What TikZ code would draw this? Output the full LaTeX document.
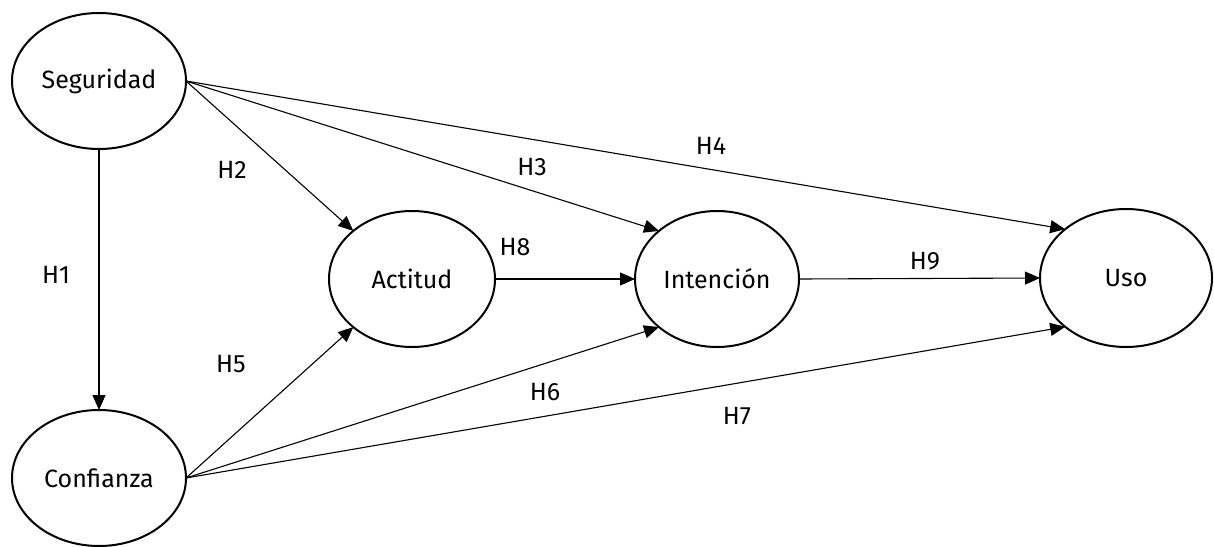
\documentclass[tikz,border=0pt]{standalone}
\usepackage{fontspec}
\setmainfont{Fira Sans}
\usetikzlibrary{shapes.geometric,arrows.meta}
\begin{document}
\begin{tikzpicture}[x=1pt,y=-1pt,
  construct/.style={ellipse,draw,line width=2pt,inner sep=0pt,outer sep=0pt,
    font=\fontsize{25}{30}\selectfont},
  link/.style={line width=1.1pt,-{Triangle[length=15pt,width=13pt]}},
  hyp/.style={font=\fontsize{25}{30}\selectfont,inner sep=0pt}]
\useasboundingbox (0,0) rectangle (1214,546);
\node[construct,minimum width=174pt,minimum height=136pt] (seg) at (99,81) {Seguridad};
\node[construct,minimum width=174pt,minimum height=136pt] (con) at (99,478) {Confianza};
\node[construct,minimum width=166pt,minimum height=136pt] (act) at (412,279) {Actitud};
\node[construct,minimum width=164pt,minimum height=136pt] (int) at (717,279) {Intención};
\node[construct,minimum width=172pt,minimum height=138pt] (uso) at (1126,278) {Uso};

\draw[link] (seg.south) -- (con.north);
\draw[link] (seg.east) -- (act.north west);
\draw[link] (seg.east) -- (int.north west);
\draw[link] (seg.east) -- (uso.north west);
\draw[link] (con.east) -- (act.south west);
\draw[link] (con.east) -- (int.south west);
\draw[link] (con.east) -- (uso.south west);
\draw[link] (act.east) -- (int.west);
\draw[link] (int.east) -- (uso.west);

\node[hyp] (h1) at (56,275) {H1};
\node[hyp] (h2) at (232,170) {H2};
\node[hyp] (h3) at (532,167) {H3};
\node[hyp] (h4) at (711,146) {H4};
\node[hyp] (h5) at (231,364) {H5};
\node[hyp] (h6) at (545,392) {H6};
\node[hyp] (h7) at (737,416) {H7};
\node[hyp] (h8) at (515,247) {H8};
\node[hyp] (h9) at (925,261) {H9};
\end{tikzpicture}
\end{document}
